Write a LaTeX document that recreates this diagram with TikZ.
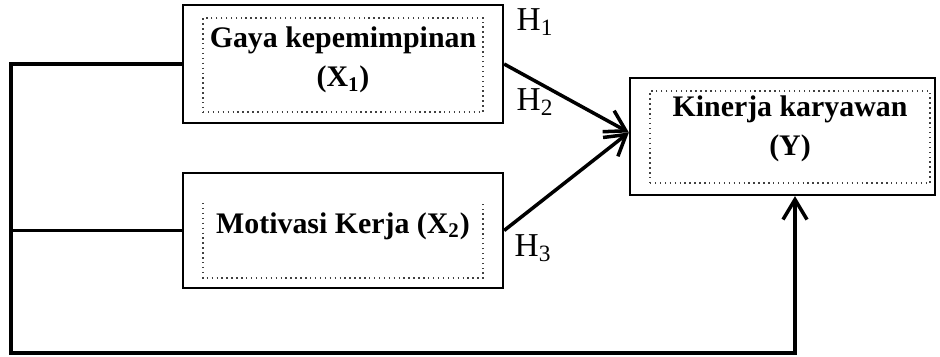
\documentclass[tikz,border=0pt]{standalone}
\usepackage{fontspec}
\setmainfont{Liberation Serif}
\usepackage{tikz}
\usetikzlibrary{calc,
	positioning,
	arrows.meta}
\tikzstyle{box}=[draw, line width=1.3pt, inner sep=0]
\tikzstyle{dotbox}=[draw=black!75, dotted, line width=0.8pt, inner sep=0]
\tikzstyle{txt}=[align=center, font=\fontsize{17}{22}\selectfont\bfseries]
\tikzstyle{hyp}=[font=\fontsize{19}{22}\selectfont, inner sep=0]
\tikzstyle{conn}=[line width=2pt]
\tikzstyle{arr}=[conn, -{Straight Barb[length=4mm, width=4.8mm, line width=2pt]}]

\begin{document}
\begin{tikzpicture}[x=0.02cm, y=-0.02cm]
            \useasboundingbox (0,0) rectangle (940,356);
            % variabel bebas
            \node[box, minimum width=6.4cm, minimum height=2.36cm] (gaya) at (343,64) {};
            \node[dotbox, minimum width=5.6cm, minimum height=1.88cm] (gayain) at (343,65) {};
            \node[txt] (gayatxt) at (343,60) {Gaya kepemimpinan\\(X\textsubscript{1})};
            \node[box, minimum width=6.4cm, minimum height=2.3cm] (motivasi) at (343,230.5) {};
            \draw[dotbox] (203,203) |- (483,278) -- (483,203);
            \node[txt] (motivasitxt) at (343,226) {Motivasi Kerja (X\textsubscript{2})};
            % variabel terikat
            \node[box, minimum width=6.1cm, minimum height=2.34cm] (kinerja) at (782.5,136.5) {};
            \node[dotbox, minimum width=5.6cm, minimum height=1.84cm] (kinerjain) at (790,137) {};
            \node[txt] (kinerjatxt) at (790,129) {Kinerja karyawan\\(Y)};
            % hipotesis
            \node[hyp] (h1) at (535,22) {H\textsubscript{1}};
            \node[hyp] (h2) at (535,102) {H\textsubscript{2}};
            \node[hyp] (h3) at (533,248) {H\textsubscript{3}};
            % panah
            \coordinate (kiri) at (11,353);
            \coordinate (masuk) at ([yshift=2.3pt]kinerja.west);
            \draw[arr] (gaya.east) -- (masuk);
            \draw[arr] (motivasi.east) -- (masuk);
            \draw[arr] (gaya.west) -| (kiri) -| ([xshift=0.25cm]kinerja.south);
            \draw[conn] (motivasi.west) -- (motivasi.west -| kiri);
\end{tikzpicture}
\end{document}
